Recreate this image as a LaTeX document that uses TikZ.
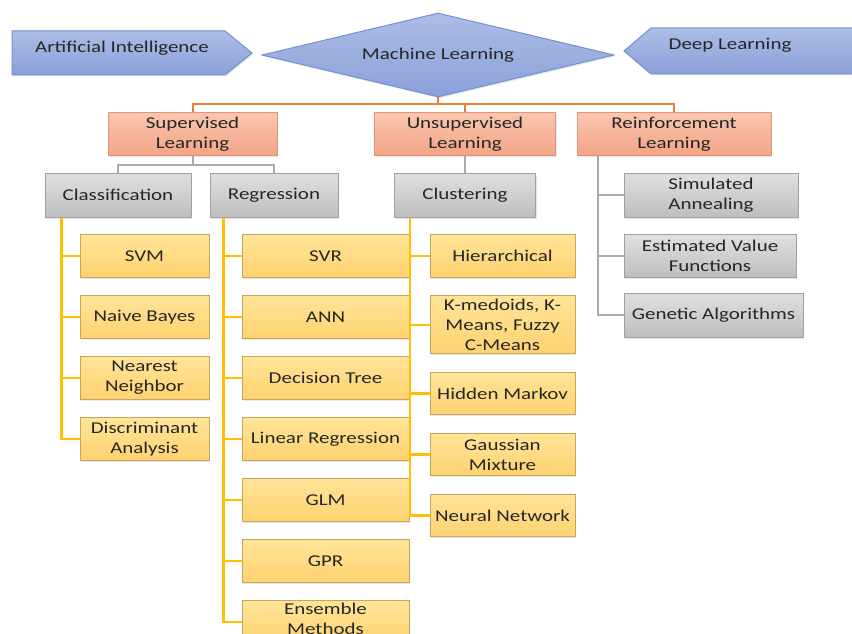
\documentclass[tikz,border=0pt]{standalone}
\usepackage{fontspec}
\setmainfont{Carlito}[FakeStretch=1.27]
\usetikzlibrary{positioning,shapes.geometric,calc,shadows}

\definecolor{bluetop}{RGB}{172,189,230}
\definecolor{bluebot}{RGB}{138,160,217}
\definecolor{blueedge}{RGB}{118,144,207}
\definecolor{salmontop}{RGB}{249,198,176}
\definecolor{salmonbot}{RGB}{243,164,134}
\definecolor{salmonedge}{RGB}{226,148,118}
\definecolor{greytop}{RGB}{224,224,224}
\definecolor{greybot}{RGB}{190,190,190}
\definecolor{greyedge}{RGB}{160,160,160}
\definecolor{yellowtop}{RGB}{255,228,152}
\definecolor{yellowbot}{RGB}{255,210,112}
\definecolor{yellowedge}{RGB}{198,166,88}
\definecolor{orangeline}{RGB}{237,125,49}
\definecolor{greyline}{RGB}{170,170,170}
\definecolor{yellowline}{RGB}{255,192,0}
\definecolor{inkgrey}{RGB}{38,38,38}

\begin{document}
\begin{tikzpicture}[x=1pt,y=-1pt,node distance=17.5pt,
  every node/.style={font=\fontsize{16.5}{20}\selectfont,text=inkgrey,align=center},
  boxbase/.style={draw,line width=1pt,minimum height=42.5pt,inner xsep=2pt,inner ysep=1pt,
    drop shadow={opacity=.18,shadow xshift=1.2pt,shadow yshift=-1.5pt}},
  bluebox/.style={boxbase,draw=blueedge,top color=bluetop,bottom color=bluebot},
  learnbox/.style={boxbase,draw=salmonedge,top color=salmontop,bottom color=salmonbot},
  taskbox/.style={boxbase,draw=greyedge,top color=greytop,bottom color=greybot},
  algbox/.style={boxbase,draw=yellowedge,top color=yellowtop,bottom color=yellowbot},
  clsalg/.style={algbox,minimum width=129pt},
  regalg/.style={algbox,minimum width=167pt},
  clualg/.style={algbox,minimum width=145pt},
  mlline/.style={orangeline,line width=2pt},
  taskline/.style={greyline,line width=2pt},
  algline/.style={yellowline,line width=2.2pt}]
  \useasboundingbox (0,0) rectangle (852,634);

  % top row
  \draw[bluebox] (12,31) -- (225,31) -- (252,53) -- (225,75) -- (12,75) -- cycle;
  \node (ai) at (122,48) {Artificial Intelligence};
  \node[bluebox,diamond,aspect=4.2,inner sep=0pt,minimum width=352pt,minimum height=84pt] (ml) at (438,55) {Machine Learning};
  \draw[bluebox] (624,51) -- (651,28) -- (870,28) -- (870,74) -- (651,74) -- cycle;
  \node (dl) at (730,45) {Deep Learning};

  % learning types
  \node[learnbox,minimum width=169pt] (sup) at (192.5,134) {Supervised\\Learning};
  \node[learnbox,minimum width=181pt] (uns) at (465,134) {Unsupervised\\Learning};
  \node[learnbox,minimum width=194pt] (rl) at (674,134) {Reinforcement\\Learning};

  % tasks
  \node[taskbox,minimum width=146pt,minimum height=44pt] (cls) at (118,195) {Classification};
  \node[taskbox,minimum width=128pt,minimum height=44pt] (reg) at (274,195) {Regression};
  \node[taskbox,minimum width=141pt,minimum height=44pt] (clu) at (465,195) {Clustering};
  \node[taskbox,minimum width=174pt,minimum height=44pt] (sa) at (711,195) {Simulated\\Annealing};
  \node[taskbox,minimum width=172pt] (evf) at (710,256) {Estimated Value\\Functions};
  \node[taskbox,minimum width=179pt,minimum height=44pt] (ga) at (713.5,315) {Genetic Algorithms};

  % classification
  \node[clsalg] (svm) at (144.5,256) {SVM};
  \node[clsalg,below=of svm] (nb) {Naive Bayes};
  \node[clsalg,below=of nb] (nn) {Nearest\\Neighbor};
  \node[clsalg,below=of nn] (da) {Discriminant\\Analysis};

  % regression
  \node[regalg] (svr) at (325.5,256) {SVR};
  \node[regalg,below=of svr] (ann) {ANN};
  \node[regalg,below=of ann] (dt) {Decision Tree};
  \node[regalg,below=of dt] (lr) {Linear Regression};
  \node[regalg,below=of lr] (glm) {GLM};
  \node[regalg,below=of glm] (gpr) {GPR};
  \node[regalg,text depth=6pt,below=of gpr] (ens) {Ensemble\\Methods};

  % clustering
  \node[clualg] (hier) at (502.5,256) {Hierarchical};
  \node[clualg,minimum height=58pt,below=of hier] (kmed) {K-medoids, K-\\Means, Fuzzy\\C-Means};
  \node[clualg,below=of kmed] (hmm) {Hidden Markov};
  \node[clualg,below=of hmm] (gmm) {Gaussian\\Mixture};
  \node[clualg,below=of gmm] (nnet) {Neural Network};

  % connectors
  \coordinate (mlbus) at ($(ml.south)+(0,7)$);
  \draw[mlline] (ml.south) -- (mlbus) -| (sup.north);
  \draw[mlline] (mlbus) -| (uns.north);
  \draw[mlline] (mlbus) -| (rl.north);

  \coordinate (supbus) at ($(sup.south)+(0,9)$);
  \draw[taskline] (sup.south) -- (supbus) -| (cls.north);
  \draw[taskline] (supbus) -| (reg.north);
  \draw[taskline] (uns.south) -- (clu.north);

  \coordinate (rlbar) at ($(rl.south west)+(21,0)$);
  \foreach \t in {sa,evf,ga}
    \draw[taskline] (rlbar) |- (\t.west);

  \coordinate (clsbar) at ($(cls.south west)+(17,0)$);
  \foreach \a in {svm,nb,nn,da}
    \draw[algline] (clsbar) |- (\a.west);
  \coordinate (regbar) at ($(reg.south west)+(14,0)$);
  \foreach \a in {svr,ann,dt,lr,glm,gpr,ens}
    \draw[algline] (regbar) |- (\a.west);
  \coordinate (clubar) at ($(clu.south west)+(16,0)$);
  \foreach \a in {hier,kmed,hmm,gmm,nnet}
    \draw[algline] (clubar) |- (\a.west);
\end{tikzpicture}
\end{document}
